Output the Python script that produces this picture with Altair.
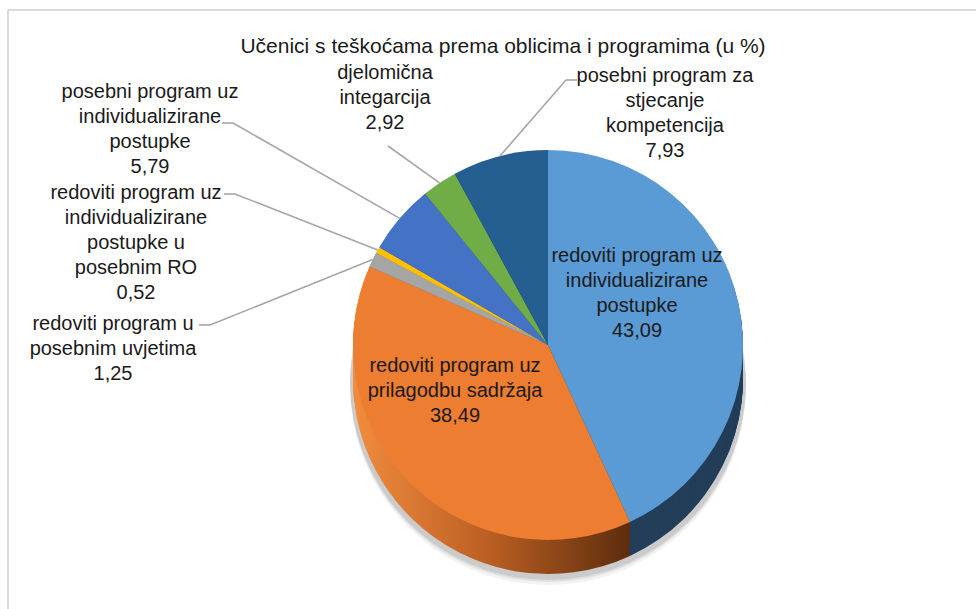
import altair as alt
import pandas as pd

# ---------------- data ----------------
title_text = "Učenici s teškoćama prema oblicima i programima (u %)"
label_lines = [
    "redoviti program uz\nindividualizirane\npostupke",
    "redoviti program uz\nprilagodbu sadržaja",
    "redoviti program u\nposebnim uvjetima",
    "redoviti program uz\nindividualizirane\npostupke u\nposebnim RO",
    "posebni program uz\nindividualizirane\npostupke",
    "djelomična\nintegarcija",
    "posebni program za\nstjecanje\nkompetencija",
]
categories = [s.replace("\n", " ") for s in label_lines]
values = [43.09, 38.49, 1.25, 0.52, 5.79, 2.92, 7.93]
colors_top = ["#5B9BD5", "#ED7D31", "#A5A5A5", "#FFC000", "#4472C4", "#70AD47", "#255E91"]
colors_side = ["#243F5A", "#9A4E17", "#6B6B6B", "#A67C00", "#2B4A80", "#47702C", "#173C5E"]

df = pd.DataFrame({
    "category": categories,
    "label": label_lines,
    "value": values,
    "order": list(range(len(values))),
})

# ---------------- layout ----------------
CX, CY, R, DEPTH = 548, 345, 195, 34
FONT = "Liberation Sans, Arial, sans-serif"
FS = 20
LH = 25

# label anchor: (x, first-line baseline y) ; leader: (elbow x, elbow y, stub end x) or None
label_pos = {
    0: (637, 262),
    1: (455, 372),
    2: (113, 330),
    3: (136, 199),
    4: (150, 98),
    5: (385, 79),
    6: (665, 82),
}
leaders = {
    2: (210, 325, 199),
    3: (235, 194, 224),
    4: (233, 123, 222),
    5: (388, 146, None),
    6: (566, 80, 577),
}

base = (
    alt.Chart(df)
    .transform_joinaggregate(total="sum(value)")
    .transform_window(cum="sum(value)", sort=[alt.SortField("order")], frame=[None, 0])
    .transform_calculate(
        a0="(datum.cum - datum.value) / datum.total * 2 * PI",
        a1="datum.cum / datum.total * 2 * PI",
    )
    .transform_calculate(
        mid="(datum.a0 + datum.a1) / 2",
    )
    .transform_calculate(
        ex=f"{CX} + {R} * sin(datum.mid)",
        ey=f"{CY} - {R} * cos(datum.mid)",
        txt="datum.label + '\\n' + replace(format(datum.value, '.2f'), '.', ',')",
    )
)

theta = alt.Theta("a0:Q", scale=None)
theta2 = alt.Theta2("a1:Q")
orange = categories[1]

layers = []

# frame
frame_df = pd.DataFrame({"k": [0]})
layers.append(alt.Chart(frame_df).mark_rule(color="#D9D9D9", strokeWidth=2).encode(
    x=alt.value(8), y=alt.value(10), y2=alt.value(609)))
layers.append(alt.Chart(frame_df).mark_rule(color="#D9D9D9", strokeWidth=2).encode(
    x=alt.value(8), x2=alt.value(976), y=alt.value(10)))

# soft shadow
for off, op in [(DEPTH + 8, 0.05), (DEPTH + 5, 0.07), (DEPTH + 3, 0.09)]:
    layers.append(base.mark_arc(radius=R + 3, color="#000000", opacity=op).encode(
        theta=theta, theta2=theta2, x=alt.value(CX), y=alt.value(CY + off)))

# side (depth) layers
orange_grad = alt.Gradient(
    gradient="linear",
    stops=[
        alt.GradientStop(color="#F28C3E", offset=0),
        alt.GradientStop(color="#B95E22", offset=0.5),
        alt.GradientStop(color="#5C2D0D", offset=1),
    ],
    x1=0, x2=1, y1=0, y2=0,
)
side_layers = []
for k in range(DEPTH, 0, -1):
    side_layers.append(
        base.transform_filter(alt.datum.category != orange)
        .mark_arc(radius=R)
        .encode(
            theta=theta, theta2=theta2,
            color=alt.Color("category:N", scale=alt.Scale(domain=categories, range=colors_side), legend=None),
            x=alt.value(CX), y=alt.value(CY + k),
        )
    )
    side_layers.append(
        base.transform_filter(alt.datum.category == orange)
        .mark_arc(radius=R, fill=orange_grad)
        .encode(theta=theta, theta2=theta2, x=alt.value(CX), y=alt.value(CY + k))
    )
layers.append(alt.layer(*side_layers))

# top face
layers.append(
    base.mark_arc(radius=R).encode(
        theta=theta, theta2=theta2,
        color=alt.Color("category:N", scale=alt.Scale(domain=categories, range=colors_top), legend=None),
        x=alt.value(CX), y=alt.value(CY),
        tooltip=["category:N", "value:Q"],
    )
)

# leader lines
for i, (elx, ely, stub) in leaders.items():
    cat = categories[i]
    layers.append(
        base.transform_filter(alt.datum.category == cat)
        .mark_rule(color="#A6A6A6", strokeWidth=1.6)
        .encode(
            x=alt.X("ex:Q", scale=None), y=alt.Y("ey:Q", scale=None),
            x2=alt.value(elx), y2=alt.value(ely),
        )
    )
    if stub is not None:
        layers.append(
            base.transform_filter(alt.datum.category == cat)
            .mark_rule(color="#A6A6A6", strokeWidth=1.6)
            .encode(x=alt.value(elx), x2=alt.value(stub), y=alt.value(ely))
        )

# labels
for i, (lx, ly) in label_pos.items():
    cat = categories[i]
    layers.append(
        base.transform_filter(alt.datum.category == cat)
        .mark_text(font=FONT, fontSize=FS, lineHeight=LH, lineBreak="\n",
                   align="center", baseline="alphabetic", color="#1A1A1A")
        .encode(text="txt:N", x=alt.value(lx), y=alt.value(ly))
    )

# title
layers.append(
    alt.Chart(pd.DataFrame({"t": [title_text]}))
    .mark_text(font=FONT, fontSize=21, align="center", baseline="middle", color="#1A1A1A")
    .encode(text="t:N", x=alt.value(503), y=alt.value(47))
)

chart = (
    alt.layer(*layers)
    .resolve_scale(color="independent")
    .properties(width=976, height=609, autosize="none", padding=0, background="white")
    .configure_view(stroke=None)
)

chart.save("out.html", embed_options={"renderer": "svg", "actions": False})
